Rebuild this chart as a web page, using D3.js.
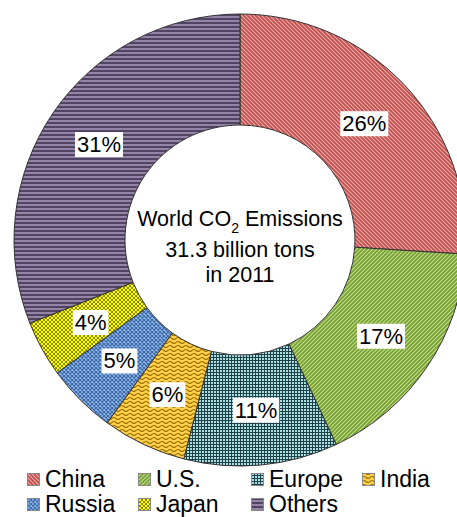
<!DOCTYPE html>
<html>
<head>
<meta charset="utf-8">
<script src="https://cdn.jsdelivr.net/npm/d3@7"></script>
<style>
  html, body { margin: 0; padding: 0; background: #fff; }
  svg { display: block; font-family: Arial, "Liberation Sans", sans-serif; }
</style>
</head>
<body>
<svg id="chart" width="457" height="517"></svg>
<script>
// Share of world CO2 emissions by country/region, 2011
const categories = ["China", "U.S.", "Europe", "India", "Russia", "Japan", "Others"];
const shares = [26, 17, 11, 6, 5, 4, 31];
const labels = ["26%", "17%", "11%", "6%", "5%", "4%", "31%"];
const titleLines = ["World CO", "31.3 billion tons", "in 2011"];
const legendRows = [["China", "U.S.", "Europe", "India"], ["Russia", "Japan", "Others"]];

const svg = d3.select("#chart");
const defs = svg.append("defs");

// Fill patterns, one per category
function makePattern(id, w, h, bg, draw) {
  const p = defs.append("pattern")
    .attr("id", id)
    .attr("patternUnits", "userSpaceOnUse")
    .attr("width", w).attr("height", h);
  p.append("rect").attr("width", w).attr("height", h).attr("fill", bg);
  draw(p);
}
makePattern("pat-china", 4, 4, "#eeaeac", p => {
  p.append("path").attr("d", "M-1,-1L5,5M3,-1L5,1M-1,3L1,5")
    .attr("stroke", "#c0504d").attr("stroke-width", 1.8);
});
makePattern("pat-us", 4, 4, "#c8e195", p => {
  p.append("path").attr("d", "M-1,5L5,-1M-1,1L1,-1M3,5L5,3")
    .attr("stroke", "#76a030").attr("stroke-width", 1.8);
});
makePattern("pat-europe", 3, 3, "#a8e0e0", p => {
  p.append("path").attr("d", "M0,0.5H3M0.5,0V3")
    .attr("stroke", "#22404a").attr("stroke-width", 1);
});
makePattern("pat-india", 8, 4, "#ffcf4a", p => {
  p.append("path").attr("d", "M0,2.5Q2,0.5 4,2.5T8,2.5")
    .attr("fill", "none").attr("stroke", "#9a7200").attr("stroke-width", 1.1);
});
makePattern("pat-russia", 4, 4, "#93bce8", p => {
  p.append("path").attr("d", "M0,0L4,4M4,0L0,4")
    .attr("stroke", "#3a66a8").attr("stroke-width", 1.1);
});
makePattern("pat-japan", 4, 4, "#ffff00", p => {
  p.append("path").attr("d", "M0,0L4,4M4,0L0,4")
    .attr("stroke", "#7c7c00").attr("stroke-width", 0.9);
});
makePattern("pat-others", 4, 4, "#9484a8", p => {
  p.append("rect").attr("y", 2).attr("width", 4).attr("height", 2).attr("fill", "#514362");
});
const fills = ["pat-china", "pat-us", "pat-europe", "pat-india", "pat-russia", "pat-japan", "pat-others"];
const color = d3.scaleOrdinal().domain(categories).range(fills.map(f => `url(#${f})`));

// Donut
const cx = 240, cy = 240, outerR = 226, innerR = 115;
const pie = d3.pie().sort(null).value(d => d.value);
const arcs = pie(categories.map((c, i) => ({ name: c, value: shares[i], label: labels[i] })));
const arc = d3.arc().innerRadius(innerR).outerRadius(outerR);

const g = svg.append("g").attr("transform", `translate(${cx},${cy})`);
g.selectAll("path.slice")
  .data(arcs)
  .join("path")
  .attr("class", "slice")
  .attr("d", arc)
  .attr("fill", d => color(d.data.name))
  .attr("stroke", "#333")
  .attr("stroke-width", 1);

// Percentage labels on white boxes
const lab = g.selectAll("g.lab")
  .data(arcs)
  .join("g")
  .attr("class", "lab")
  .attr("transform", d => `translate(${arc.centroid(d)})`);
lab.append("text")
  .attr("text-anchor", "middle")
  .attr("dy", "0.36em")
  .attr("font-size", 22)
  .attr("fill", "#000")
  .text(d => d.data.label);
lab.each(function () {
  const t = d3.select(this).select("text");
  const b = t.node().getBBox();
  d3.select(this).insert("rect", "text")
    .attr("x", b.x - 2).attr("y", b.y)
    .attr("width", b.width + 4).attr("height", b.height)
    .attr("fill", "#fff");
});

// Centre title
const title = g.append("text").attr("text-anchor", "middle").attr("font-size", 21.5).attr("fill", "#000");
const l1 = title.append("tspan").attr("x", 0).attr("y", -14);
l1.append("tspan").text(titleLines[0]);
l1.append("tspan").attr("font-size", 14).attr("dy", 7).text("2");
l1.append("tspan").attr("dy", -7).text(" Emissions");
title.append("tspan").attr("x", 0).attr("y", 17).text(titleLines[1]);
title.append("tspan").attr("x", 0).attr("y", 42).text(titleLines[2]);

// Legend
const colX = [27, 138, 251, 362];
const rowY = [487, 512];
legendRows.forEach((row, r) => {
  row.forEach((name, c) => {
    const item = svg.append("g").attr("transform", `translate(${colX[c]},${rowY[r]})`);
    item.append("rect")
      .attr("x", 0.5).attr("y", -13.5)
      .attr("width", 12).attr("height", 12)
      .attr("fill", color(name))
      .attr("stroke", "#888").attr("stroke-width", 1);
    item.append("text")
      .attr("x", 18).attr("y", 0)
      .attr("font-size", 23)
      .attr("fill", "#000")
      .text(name);
  });
});
</script>
</body>
</html>
